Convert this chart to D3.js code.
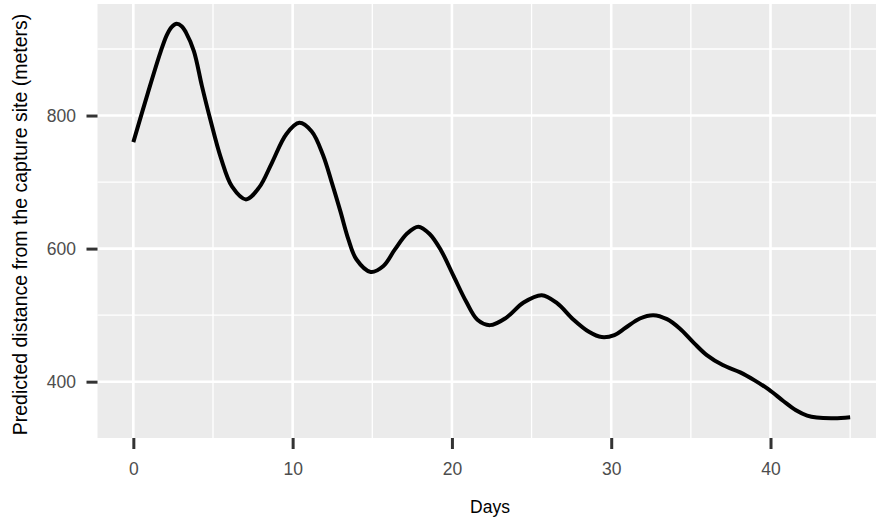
<!DOCTYPE html>
<html>
<head>
<meta charset="utf-8">
<script src="https://cdn.jsdelivr.net/npm/d3@7"></script>
<style>
  html, body { margin: 0; padding: 0; background: #fff; }
  svg { display: block; font-family: "Liberation Sans", Arial, sans-serif; }
</style>
</head>
<body>
<svg id="chart" width="876" height="524"></svg>
<script>
// Smoothed prediction: distance from the capture site over time
const days = [0, 0.9, 1.7, 2.1, 2.4, 2.72, 3.05, 3.3, 3.8, 4.3, 4.8, 5.5, 6.2, 7.07, 7.9, 8.7, 9.6, 10.42,
  11.2, 11.9, 12.45, 13.0, 13.5, 14.0, 14.9, 15.7, 16.4, 17.2, 17.89, 18.6, 19.3, 20.1, 20.9,
  21.6, 22.39, 23.4, 24.5, 25.64, 26.6, 27.6, 28.6, 29.4, 30.2, 30.9, 31.8, 32.64, 33.5, 34.3,
  35.2, 36.0, 37.0, 38.1, 39.0, 39.9, 40.8, 41.6, 42.3, 42.9, 44.0, 45];
const distance = [760, 833, 895, 921, 933, 938, 934, 925, 897, 845, 797, 736, 693, 674, 692, 729, 772, 789,
  776, 741, 700, 656, 614, 584, 565, 574, 598, 623, 633, 622, 598, 559, 520,
  493, 485, 496, 519, 530, 518, 494, 475, 467, 470, 481, 495, 500, 494, 480,
  458, 440, 425, 414, 402, 388, 371, 357, 349, 346, 345, 346.5];

const xTicks = [0, 10, 20, 30, 40];
const xMinor = [5, 15, 25, 35, 45];
const yTicks = [400, 600, 800];
const yMinor = [300, 500, 700, 900];

const panel = { left: 97.5, top: 4, bottom: 438, right: 886 };

// ggplot-style 5% expansion of the data range
const xExt = d3.extent(days), yExt = d3.extent(distance);
const xPad = (xExt[1] - xExt[0]) * 0.05, yPad = (yExt[1] - yExt[0]) * 0.05;
const x = d3.scaleLinear().domain([xExt[0] - xPad, xExt[1] + xPad]).range([panel.left, panel.right]);
const y = d3.scaleLinear().domain([yExt[0] - yPad, yExt[1] + yPad]).range([panel.bottom, panel.top]);

const svg = d3.select("#chart");

svg.append("rect")
  .attr("x", panel.left).attr("y", panel.top)
  .attr("width", panel.right - panel.left).attr("height", panel.bottom - panel.top)
  .attr("fill", "#EBEBEB");

const grid = svg.append("g");
grid.selectAll(".vminor").data(xMinor).join("line")
  .attr("x1", d => x(d)).attr("x2", d => x(d))
  .attr("y1", panel.top).attr("y2", panel.bottom)
  .attr("stroke", "#fff").attr("stroke-width", 1.3);
grid.selectAll(".hminor").data(yMinor).join("line")
  .attr("y1", d => y(d)).attr("y2", d => y(d))
  .attr("x1", panel.left).attr("x2", panel.right)
  .attr("stroke", "#fff").attr("stroke-width", 1.3);
grid.selectAll(".vmajor").data(xTicks).join("line")
  .attr("x1", d => x(d)).attr("x2", d => x(d))
  .attr("y1", panel.top).attr("y2", panel.bottom)
  .attr("stroke", "#fff").attr("stroke-width", 2.6);
grid.selectAll(".hmajor").data(yTicks).join("line")
  .attr("y1", d => y(d)).attr("y2", d => y(d))
  .attr("x1", panel.left).attr("x2", panel.right)
  .attr("stroke", "#fff").attr("stroke-width", 2.6);

const line = d3.line()
  .x((d, i) => x(days[i]))
  .y(d => y(d))
  .curve(d3.curveCatmullRom.alpha(0.5));

svg.append("path")
  .datum(distance)
  .attr("d", line)
  .attr("fill", "none")
  .attr("stroke", "#000")
  .attr("stroke-width", 4)
  .attr("stroke-linejoin", "round");

// Axes
const xAxis = d3.axisBottom(x).tickValues(xTicks).tickSize(11).tickFormat(d3.format("d"));
const gx = svg.append("g").attr("transform", `translate(0,${panel.bottom})`).call(xAxis);
gx.select(".domain").remove();
gx.selectAll(".tick line").attr("stroke", "#333").attr("stroke-width", 3);
gx.selectAll(".tick text").attr("fill", "#4D4D4D").attr("font-size", 17.5).attr("dy", "0.71em")
  .attr("y", 24.5);

const yAxis = d3.axisLeft(y).tickValues(yTicks).tickSize(11).tickFormat(d3.format("d"));
const gy = svg.append("g").attr("transform", `translate(${panel.left},0)`).call(yAxis);
gy.select(".domain").remove();
gy.selectAll(".tick line").attr("stroke", "#333").attr("stroke-width", 3);
gy.selectAll(".tick text").attr("fill", "#4D4D4D").attr("font-size", 17.5).attr("x", -21.5);

svg.append("text")
  .attr("x", 490).attr("y", 513)
  .attr("text-anchor", "middle")
  .attr("font-size", 17.5)
  .attr("fill", "#000")
  .text("Days");

svg.append("text")
  .attr("transform", "translate(27,224.5) rotate(-90)")
  .attr("text-anchor", "middle")
  .attr("font-size", 19.5)
  .attr("fill", "#000")
  .text("Predicted distance from the capture site (meters)");
</script>
</body>
</html>
